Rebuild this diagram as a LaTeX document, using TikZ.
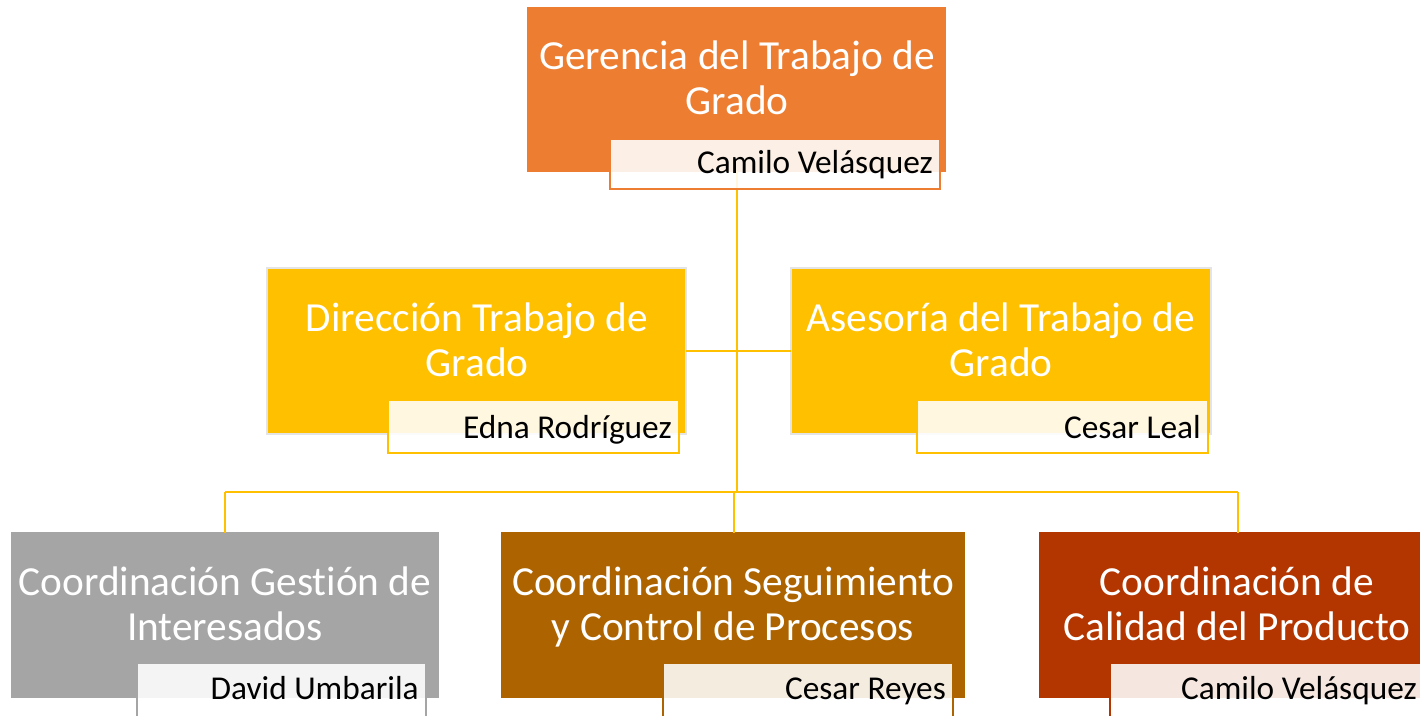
\documentclass[tikz,border=0pt]{standalone}
\usepackage{fontspec}
\setmainfont[Ligatures=NoCommon]{Carlito}
\usetikzlibrary{fit}
\definecolor{corange}{HTML}{ED7D31}
\definecolor{cgold}{HTML}{FFC000}
\definecolor{cgray}{HTML}{A5A5A5}
\definecolor{cbrown}{HTML}{AD6400}
\definecolor{cred}{HTML}{B33500}
\definecolor{cedge}{HTML}{E4E4E4}
\tikzset{
  unitbox/.style={inner sep=0pt, outer sep=0pt, draw=cedge, line width=0.9pt},
  namebox/.style={inner sep=0pt, outer sep=0pt, fill=white, fill opacity=0.88, line width=1.5pt},
  titletext/.style={text=white, align=center, anchor=base, font=\fontsize{31}{33.75}\selectfont, inner sep=0pt},
  nametext/.style={text=black, anchor=base east, font=\fontsize{25}{30}\selectfont, inner sep=0pt},
  link/.style={draw=cgold, line width=1.5pt}
}
\begin{document}
\begin{tikzpicture}[x=0.75pt,y=-0.75pt]
\useasboundingbox (0,0) rectangle (1420,716);
% connectors
\coordinate (c1) at (737,351);
\coordinate (c2) at (737,492);
\coordinate (bl) at (225,492);
\coordinate (bm) at (734,492);
\coordinate (br) at (1238,492);
% top
\node[unitbox, fill=corange, draw=corange, fit={(528,8)(945,171)}] (g) {};
\node[titletext] (gt) at (737,115) {Gerencia del Trabajo de\\Grado};
% mid
\node[unitbox, fill=cgold, fit={(267,268)(686,434)}] (d) {};
\node[titletext] (dt) at (477,377) {Dirección Trabajo de\\Grado};
\node[unitbox, fill=cgold, fit={(791,268)(1211,434)}] (a) {};
\node[titletext] (at) at (1001,377) {Asesoría del Trabajo de\\Grado};
% bottom
\node[unitbox, fill=cgray, draw=cgray, fit={(12,533)(438,697)}] (b1) {};
\node[titletext] (b1t) at (225,640) {Coordinación Gestión de\\Interesados};
\node[unitbox, fill=cbrown, draw=cbrown, fit={(502,533)(964,697)}] (b2) {};
\node[titletext] (b2t) at (733,640) {Coordinación Seguimiento\\y Control de Procesos};
\node[unitbox, fill=cred, draw=cred, fit={(1040,533)(1440,697)}] (b3) {};
\node[titletext] (b3t) at (1237,640) {Coordinación de\\Calidad del Producto};
% links
\draw[link] (g.south -| c1) -- (c2);
\draw[link] (d.east |- c1) -- (a.west |- c1);
\draw[link] (bl) -- (br);
\draw[link] (bl) -- (b1.north -| bl);
\draw[link] (bm) -- (b2.north -| bm);
\draw[link] (br) -- (b3.north -| br);
% name boxes
\node[namebox, draw=corange, fit={(610,139)(940,189)}] (gn) {};
\node[nametext] (gnt) at (933,174) {Camilo Velásquez};
\node[namebox, draw=cgold, fit={(388,400)(679,453)}] (dn) {};
\node[nametext] (dnt) at (672,438) {Edna Rodríguez};
\node[namebox, draw=cgold, fit={(917,400)(1208,453)}] (an) {};
\node[nametext] (ant) at (1201,438) {Cesar Leal};
\node[namebox, draw=cgray, fit={(137,663)(426,730)}] (b1n) {};
\node[nametext] (b1nt) at (419,699) {David Umbarila};
\node[namebox, draw=cbrown, fit={(663,663)(953,730)}] (b2n) {};
\node[nametext] (b2nt) at (946,699) {Cesar Reyes};
\node[namebox, draw=cred, fit={(1110,663)(1440,730)}] (b3n) {};
\node[nametext] (b3nt) at (1417,699) {Camilo Velásquez};
\end{tikzpicture}
\end{document}
